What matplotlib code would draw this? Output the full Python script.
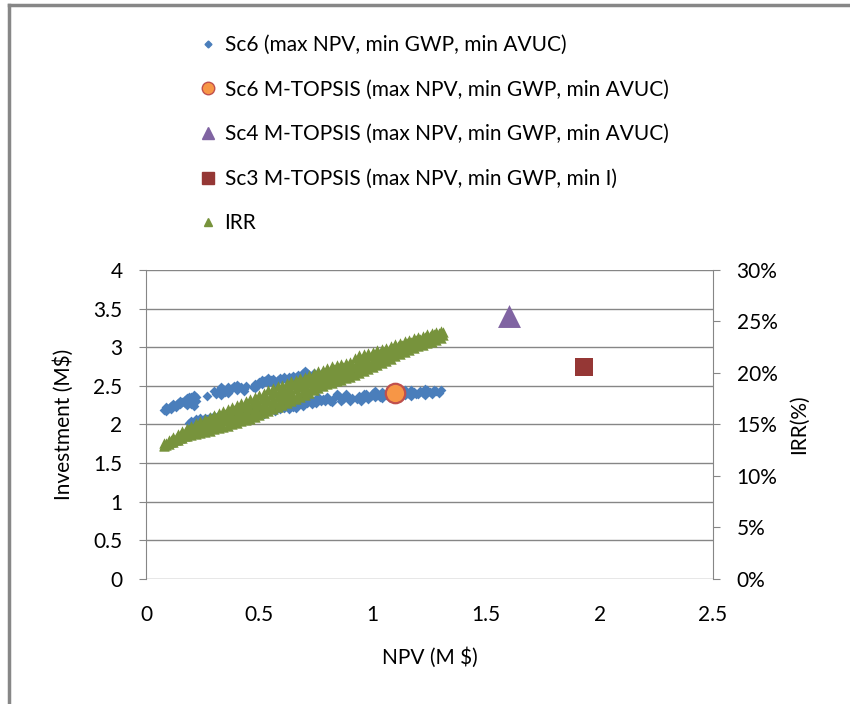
import matplotlib
matplotlib.use("Agg")
import matplotlib.pyplot as plt
from matplotlib.lines import Line2D
from matplotlib.ticker import PercentFormatter

plt.rcParams['font.family'] = ['Lato', 'DejaVu Sans']

# Sc6 Pareto points (NPV in M$, investment in M$)
sc6_npv = [0.08, 0.09, 0.10, 0.11, 0.12, 0.13, 0.14, 0.15, 0.16, 0.17, 0.18, 0.19, 0.20, 0.21, 0.22,
           0.18, 0.20, 0.21, 0.27,
           0.31, 0.32, 0.33, 0.34, 0.35, 0.36, 0.37, 0.38, 0.39, 0.40, 0.41, 0.42, 0.43, 0.44,
           0.47, 0.48, 0.49, 0.50, 0.51, 0.52, 0.53, 0.54, 0.55, 0.56, 0.57, 0.58, 0.59, 0.60,
           0.62, 0.63, 0.64, 0.65, 0.66, 0.67, 0.68, 0.69, 0.70, 0.71, 0.72,
           0.74, 0.76, 0.78, 0.80, 0.82, 0.84, 0.86, 0.88, 0.90, 0.92,
           0.09, 0.11, 0.13, 0.15, 0.17, 0.19, 0.22,
           0.30, 0.33, 0.36, 0.40, 0.43, 0.48, 0.51, 0.54, 0.57, 0.61, 0.64, 0.68, 0.70,
           0.19, 0.20, 0.21, 0.22, 0.23, 0.24, 0.25, 0.26, 0.27, 0.28, 0.29, 0.30, 0.31, 0.32, 0.33,
           0.35, 0.37, 0.39, 0.41, 0.43, 0.45, 0.47, 0.49, 0.51, 0.52, 0.53, 0.55, 0.57, 0.59, 0.61,
           0.63, 0.65, 0.66, 0.67, 0.68, 0.69, 0.70, 0.71, 0.72, 0.73, 0.74, 0.76, 0.77, 0.78, 0.80,
           0.81, 0.83, 0.85, 0.87, 0.89, 0.91, 0.93, 0.94, 0.96, 0.97, 0.99, 1.00, 1.02, 1.03, 1.05,
           1.06, 1.08, 1.10, 1.12, 1.13, 1.15, 1.16, 1.18, 1.19, 1.21, 1.22, 1.24, 1.25, 1.27, 1.28, 1.30,
           0.75, 0.79, 0.82, 0.86, 0.90, 0.84, 0.88,
           0.95, 0.98, 1.01, 1.04, 1.07, 1.09, 1.11, 1.14, 1.17, 1.20, 1.23, 1.26, 1.29,
           0.96, 1.01, 1.04, 1.14, 1.17, 1.23]
sc6_inv = [2.19, 2.22, 2.21, 2.24, 2.26, 2.25, 2.28, 2.30, 2.29, 2.32, 2.34, 2.31, 2.36, 2.38, 2.35,
           2.25, 2.27, 2.24, 2.37,
           2.40, 2.44, 2.38, 2.46, 2.42, 2.48, 2.44, 2.47, 2.50, 2.45, 2.48, 2.49, 2.46, 2.50,
           2.49, 2.53, 2.50, 2.55, 2.52, 2.56, 2.58, 2.54, 2.57, 2.59, 2.55, 2.58, 2.60, 2.57,
           2.58, 2.61, 2.60, 2.63, 2.62, 2.64, 2.63, 2.66, 2.65, 2.66, 2.64,
           2.66, 2.65, 2.68, 2.67, 2.69, 2.68, 2.70, 2.69, 2.71, 2.70,
           2.18, 2.20, 2.23, 2.26, 2.28, 2.36, 2.31,
           2.43, 2.48, 2.41, 2.51, 2.43, 2.47, 2.58, 2.60, 2.51, 2.62, 2.57, 2.60, 2.69,
           2.02, 2.05, 2.03, 2.07, 2.05, 2.08, 2.06, 2.09, 2.07, 2.10, 2.08, 2.11, 2.09, 2.12, 2.10,
           2.12, 2.11, 2.14, 2.13, 2.15, 2.14, 2.17, 2.16, 2.18, 2.13, 2.17, 2.19, 2.18, 2.20, 2.21,
           2.20, 2.22, 2.21, 2.25, 2.30, 2.24, 2.36, 2.28, 2.33, 2.26, 2.31, 2.35, 2.30, 2.33, 2.36,
           2.31, 2.34, 2.37, 2.33, 2.36, 2.34, 2.33, 2.37, 2.35, 2.39, 2.37, 2.41, 2.38, 2.36, 2.40,
           2.38, 2.41, 2.38, 2.40, 2.37, 2.41, 2.39, 2.42, 2.40, 2.43, 2.41, 2.44, 2.42, 2.45, 2.43, 2.44,
           2.28, 2.30, 2.29, 2.31, 2.30, 2.39, 2.40,
           2.31, 2.33, 2.35, 2.34, 2.36, 2.35, 2.37, 2.38, 2.37, 2.39, 2.38, 2.40, 2.41,
           2.40, 2.43, 2.42, 2.44, 2.45, 2.46]

# selected solutions
sc6_topsis = (1.10, 2.41)
sc4_topsis = (1.60, 3.40)
sc3_topsis = (1.93, 2.75)

# IRR (%) of the Sc6 points, read as rows across the band (low .. high)
irr_npv = [0.08, 0.10, 0.12, 0.14, 0.16, 0.18, 0.20, 0.22, 0.24, 0.26, 0.28, 0.30, 0.32, 0.34, 0.36, 0.38,
           0.40, 0.42, 0.44, 0.46, 0.48, 0.50, 0.52, 0.54, 0.56, 0.58, 0.60, 0.62, 0.64, 0.66, 0.68, 0.70,
           0.72, 0.74, 0.76, 0.78, 0.80, 0.82, 0.84, 0.86, 0.88, 0.90, 0.92, 0.94, 0.96, 0.98, 1.00, 1.02,
           1.04, 1.06, 1.08, 1.10, 1.12, 1.14, 1.16, 1.18, 1.20, 1.22, 1.24, 1.26, 1.28, 1.30]
irr_npv_b = [0.09, 0.11, 0.13, 0.15, 0.17, 0.19, 0.21, 0.23, 0.25, 0.27, 0.29, 0.31, 0.33, 0.35, 0.37, 0.39,
             0.41, 0.43, 0.45, 0.47, 0.49, 0.51, 0.53, 0.55, 0.57, 0.59, 0.61, 0.63, 0.65, 0.67, 0.69, 0.71,
             0.73, 0.75, 0.77, 0.79, 0.81, 0.83, 0.85, 0.87, 0.89, 0.91, 0.93, 0.95, 0.97, 0.99, 1.01, 1.03,
             1.05, 1.07, 1.09, 1.11, 1.13, 1.15, 1.17, 1.19, 1.21, 1.23, 1.25, 1.27, 1.29, 1.31]
irr_low = [12.9, 13.1, 13.3, 13.5, 13.7, 13.9, 14.0, 14.1, 14.2, 14.3, 14.4, 14.6, 14.7, 14.8, 14.9, 15.0,
           15.1, 15.3, 15.4, 15.5, 15.7, 15.9, 16.1, 16.3, 16.5, 16.7, 16.9, 17.1, 17.3, 17.5, 17.7, 17.9,
           18.1, 18.3, 18.5, 18.7, 18.9, 19.0, 19.2, 19.3, 19.5, 19.6, 19.8, 20.0, 20.2, 20.4, 20.6, 20.8,
           21.0, 21.2, 21.4, 21.6, 21.8, 22.0, 22.2, 22.4, 22.6, 22.7, 22.9, 23.0, 23.2, 23.4]
irr_q1 = [13.0, 13.3, 13.5, 13.7, 13.9, 14.2, 14.3, 14.4, 14.6, 14.7, 14.8, 15.0, 15.1, 15.3, 15.4, 15.5,
          15.6, 15.8, 16.0, 16.1, 16.3, 16.5, 16.7, 16.9, 17.1, 17.3, 17.5, 17.6, 17.8, 18.0, 18.2, 18.4,
          18.6, 18.8, 19.0, 19.2, 19.4, 19.5, 19.7, 19.8, 20.0, 20.1, 20.3, 20.5, 20.7, 20.8, 21.0, 21.2,
          21.4, 21.6, 21.8, 22.0, 22.1, 22.3, 22.5, 22.7, 22.9, 23.0, 23.2, 23.3, 23.5, 23.7]
irr_mid = [13.0, 13.3, 13.5, 13.8, 14.0, 14.3, 14.5, 14.6, 14.8, 14.9, 15.1, 15.2, 15.4, 15.6, 15.7, 15.9,
           16.0, 16.2, 16.4, 16.5, 16.7, 16.9, 17.1, 17.3, 17.5, 17.7, 17.9, 18.0, 18.2, 18.4, 18.6, 18.8,
           19.0, 19.1, 19.3, 19.5, 19.7, 19.9, 20.0, 20.1, 20.3, 20.4, 20.6, 20.9, 21.0, 21.1, 21.3, 21.5,
           21.6, 21.8, 22.0, 22.2, 22.3, 22.5, 22.7, 22.9, 23.0, 23.2, 23.3, 23.5, 23.6, 23.8]
irr_q3 = [13.2, 13.5, 13.7, 14.0, 14.3, 14.6, 14.8, 14.9, 15.1, 15.3, 15.5, 15.6, 15.8, 16.0, 16.2, 16.4,
          16.5, 16.7, 16.9, 17.1, 17.3, 17.5, 17.7, 17.9, 18.1, 18.3, 18.4, 18.6, 18.8, 18.9, 19.1, 19.3,
          19.5, 19.6, 19.8, 20.0, 20.2, 20.4, 20.5, 20.6, 20.7, 20.8, 21.1, 21.4, 21.5, 21.6, 21.7, 21.9,
          22.0, 22.2, 22.4, 22.6, 22.7, 22.9, 23.0, 23.2, 23.3, 23.5, 23.6, 23.8, 23.9, 24.0]
irr_high = [13.2, 13.5, 13.8, 14.1, 14.4, 14.7, 14.9, 15.1, 15.3, 15.5, 15.7, 15.9, 16.1, 16.3, 16.5, 16.7,
            16.9, 17.1, 17.3, 17.5, 17.7, 17.9, 18.1, 18.3, 18.5, 18.7, 18.8, 19.0, 19.2, 19.3, 19.5, 19.6,
            19.8, 20.0, 20.2, 20.3, 20.5, 20.7, 20.8, 20.9, 21.0, 21.1, 21.5, 21.7, 21.8, 21.9, 22.0, 22.2,
            22.3, 22.4, 22.6, 22.8, 22.9, 23.1, 23.2, 23.4, 23.5, 23.6, 23.8, 23.9, 24.0, 24.1]

labels = ["Sc6 (max NPV, min GWP, min AVUC)",
          "Sc6 M-TOPSIS (max NPV, min GWP, min AVUC)",
          "Sc4 M-TOPSIS (max NPV, min GWP, min AVUC)",
          "Sc3 M-TOPSIS (max NPV, min GWP, min I)",
          "IRR"]

blue = "#4A7EBB"
orange = "#F79646"
orange_edge = "#C0504D"
purple = "#8064A2"
red = "#953735"
green = "#77933C"
grid_c = "#868686"

fig = plt.figure(figsize=(8.5, 7.04), dpi=100)
ax = fig.add_axes([0.1718, 0.1776, 0.667, 0.4389])
ax2 = ax.twinx()

ax.scatter(sc6_npv, sc6_inv, marker="D", s=5.0**2, color=blue, linewidths=0, zorder=3)

# IRR series sits on top of the Sc6 cloud (secondary axis drawn above)
irr_x = irr_npv * 3 + irr_npv_b * 2
irr_y = [v / 100 for v in irr_low + irr_mid + irr_high + irr_q1 + irr_q3]
ax2.scatter(irr_x, irr_y, marker="^", s=7.5**2, color=green, linewidths=0, zorder=4)

# single solutions on top of everything, drawn on ax2 in left-axis units via transform
to_left = ax.transData
ax2.scatter([sc6_topsis[0]], [sc6_topsis[1]], marker="o", s=14**2, color=orange,
            edgecolors=orange_edge, linewidths=1.6, zorder=5, transform=to_left)
ax2.scatter([sc4_topsis[0]], [sc4_topsis[1]], marker="^", s=16.5**2, color=purple, linewidths=0,
            zorder=5, transform=to_left)
ax2.scatter([sc3_topsis[0]], [sc3_topsis[1]], marker="s", s=13.5**2, color=red, linewidths=0,
            zorder=5, transform=to_left)

ax.set_xlim(0, 2.5)
ax.set_ylim(0, 4)
ax.set_xticks([0, 0.5, 1, 1.5, 2, 2.5])
ax.set_xticklabels(["0", "0.5", "1", "1.5", "2", "2.5"])
ax.set_yticks([0, 0.5, 1, 1.5, 2, 2.5, 3, 3.5, 4])
ax.set_yticklabels(["0", "0.5", "1", "1.5", "2", "2.5", "3", "3.5", "4"])
ax2.set_ylim(0, 0.30)
ax2.set_yticks([0, 0.05, 0.10, 0.15, 0.20, 0.25, 0.30])
ax2.yaxis.set_major_formatter(PercentFormatter(1.0, decimals=0))

ax.grid(axis="y", color=grid_c, linewidth=1.0)
ax.set_axisbelow(True)
for a in (ax, ax2):
    for side in ("top", "bottom"):
        a.spines[side].set_visible(False)
ax.spines["right"].set_visible(False)
ax2.spines["left"].set_visible(False)
ax.spines["left"].set_color(grid_c)
ax2.spines["right"].set_color(grid_c)
ax.tick_params(axis="y", length=5, color=grid_c, labelsize=15, pad=12)
ax.tick_params(axis="x", length=0, labelsize=15, pad=19)
ax2.tick_params(axis="y", length=5, color=grid_c, labelsize=15, pad=12)

ax.set_xlabel("NPV (M $)", fontsize=15, labelpad=16)
ax.set_ylabel("Investment (M$)", fontsize=15, labelpad=14)
ax2.set_ylabel("IRR(%)", fontsize=15, labelpad=8)

handles = [
    Line2D([], [], linestyle="none", marker="D", markersize=3.5, color=blue),
    Line2D([], [], linestyle="none", marker="o", markersize=9, color=orange,
           markeredgecolor=orange_edge, markeredgewidth=1),
    Line2D([], [], linestyle="none", marker="^", markersize=9, color=purple),
    Line2D([], [], linestyle="none", marker="s", markersize=8, color=red),
    Line2D([], [], linestyle="none", marker="^", markersize=6, color=green),
]
fig.legend(handles, labels, loc="upper left", bbox_to_anchor=(0.225, 0.962),
           frameon=False, fontsize=15, labelspacing=1.18, handlelength=0.8,
           handletextpad=0.4, borderaxespad=0)

# chart frame (cropped) along the left and top edges
fig.add_artist(Line2D([0.0105, 0.0105], [0, 0.993], transform=fig.transFigure,
                      color="#878787", linewidth=2.5))
fig.add_artist(Line2D([0.0105, 1.0], [0.993, 0.993], transform=fig.transFigure,
                      color="#878787", linewidth=2.5))

fig.savefig("out.png", dpi=100)
